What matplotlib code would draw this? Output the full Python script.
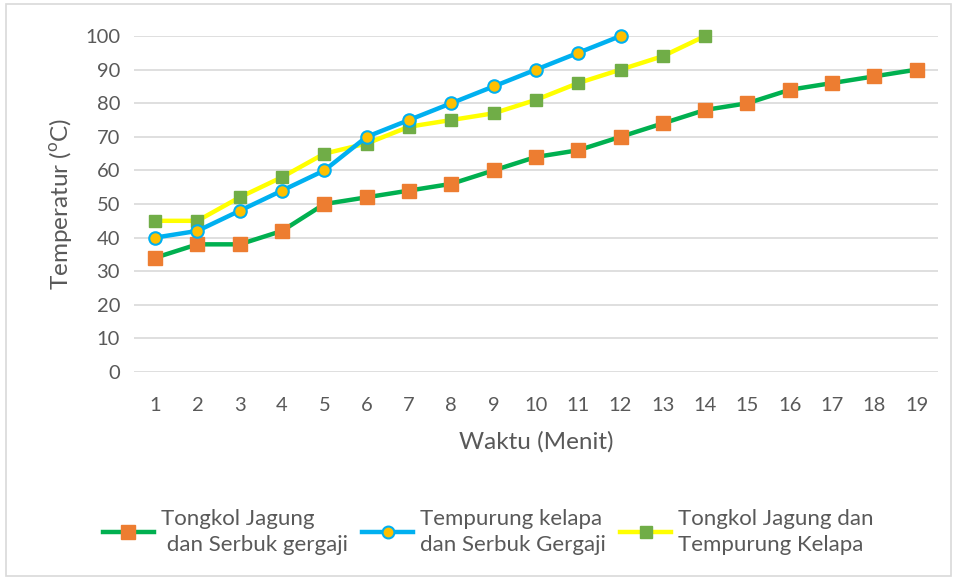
import matplotlib
matplotlib.use("Agg")
import matplotlib.pyplot as plt
from matplotlib.patches import Rectangle

plt.rcParams['font.family'] = ['Lato', 'DejaVu Sans']

minutes = list(range(1, 20))
s1_label = "Tongkol Jagung\n dan Serbuk gergaji"
s1 = [34, 38, 38, 42, 50, 52, 54, 56, 60, 64, 66, 70, 74, 78, 80, 84, 86, 88, 90]
s2_label = "Tempurung kelapa\ndan Serbuk Gergaji"
s2 = [40, 42, 48, 54, 60, 70, 75, 80, 85, 90, 95, 100]
s3_label = "Tongkol Jagung dan\nTempurung Kelapa"
s3 = [45, 45, 52, 58, 65, 68, 73, 75, 77, 81, 86, 90, 94, 100]
yticks = list(range(0, 101, 10))

txt = '#595959'
fig = plt.figure(figsize=(9.57, 5.81), dpi=100)
ax = fig.add_axes([0.140, 0.3597, 0.840, 0.5783])

ax.plot(minutes, s1, color='#00B050', lw=3.2, marker='s', ms=10,
        mfc='#ED7D31', mec='#ED7D31', label=s1_label, zorder=3, clip_on=False)
ax.plot(minutes[:len(s2)], s2, color='#00B0F0', lw=3.2, marker='o', ms=9,
        mfc='#FFC000', mec='#00B0F0', mew=1.5, label=s2_label, zorder=4, clip_on=False)
ax.plot(minutes[:len(s3)], s3, color='#FFFF00', lw=3.2, marker='s', ms=9,
        mfc='#70AD47', mec='#70AD47', label=s3_label, zorder=3, clip_on=False)

ax.set_xlim(0.5, 19.5)
ax.set_ylim(0, 100)
ax.set_xticks(minutes)
ax.set_yticks(yticks)
ax.tick_params(length=0, labelsize=14.5, colors=txt)
ax.tick_params(axis='x', pad=18)
ax.tick_params(axis='y', pad=10)
ax.grid(axis='y', color='#D9D9D9', lw=1.2)
ax.set_axisbelow(True)
for sp in ax.spines.values():
    sp.set_visible(False)

ax.set_xlabel("Waktu (Menit)", fontsize=17.5, color=txt, labelpad=12)
ax.set_ylabel("Temperatur ($^{\\mathregular{o}}$C)", fontsize=17.5, color=txt, labelpad=8)

leg = fig.legend(loc='center', bbox_to_anchor=(0.51, 0.084), ncol=3, frameon=False,
                 fontsize=16, handlelength=2.3, handletextpad=0.3, columnspacing=0.65,
                 markerscale=0.95)
for t in leg.get_texts():
    t.set_color(txt)
    t.set_linespacing(1.35)

fig.patches.append(Rectangle((0.006, 0.008), 0.988, 0.985, transform=fig.transFigure,
                             fill=False, edgecolor='#D9D9D9', lw=1.2))

fig.savefig("out.png", dpi=100)
